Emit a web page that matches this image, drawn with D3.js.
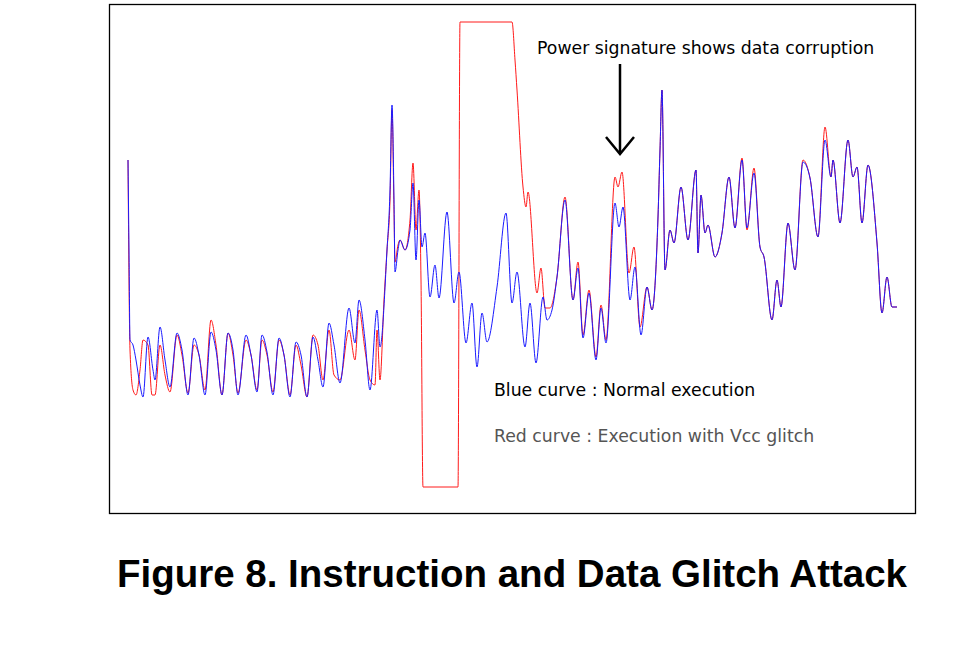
<!DOCTYPE html>
<html><head><meta charset="utf-8">
<script src="https://cdn.jsdelivr.net/npm/d3@7"></script>
<style>body{margin:0;background:#fff}</style></head>
<body><svg id="c" width="953" height="647"></svg>
<script>
// time samples and power levels (arbitrary units, 0..510)
const blueT = [128,129,130,133,136,140,143,148,153,155,160,165,170,177,182,188,194,199,205,211,216,222,228,233,238,246,251,257,262,267,273,279,284,290,296,301,307,313,318,323,329,334,340,349,355,359,365,370,377,380,387,390,392,394,395,398,400,405,410,413,416,419,422,425,430,435,439,447,454,459,466,472,477,482,487,497,506,512,517,525,530,536,543,547,552,557,565,573,578,583,589,596,601,606,615,619,623,630,635,641,647,652,658,660,662,665,670,674,681,688,696,698,701,705,708,715,722,729,735,742,747,754,760,764,772,777,781,788,795,803,810,818,825,831,833,840,848,853,857,862,868,877,882,887,892,897];
const bluePx = [160,250,340,345,360,385,397,337,370,380,327,360,387,333,350,395,338,355,395,332,350,395,333,350,395,335,355,392,335,352,395,338,355,397,342,355,397,337,360,387,323,345,383,308,343,300,340,390,310,347,250,190,105,200,272,250,240,250,230,183,260,200,247,233,297,265,298,212,303,272,343,303,367,313,342,287,213,303,272,347,303,363,297,320,310,277,200,300,268,338,293,360,308,343,203,227,207,300,267,335,287,310,217,150,90,270,230,243,187,240,170,253,195,233,225,257,233,177,228,160,228,173,247,257,320,280,307,223,270,162,178,237,140,177,160,223,140,177,167,223,165,243,313,277,307,307];
const redT = [128,129,130,133,136,140,143,148,152,155,160,165,170,177,182,188,194,199,205,211,216,222,228,233,238,246,251,257,262,267,273,279,284,290,296,301,307,313,318,323,329,334,340,349,355,359,365,370,375,377,380,384,387,390,392,394,395,398,400,405,410,413,416,419,421,423,458,460,512,515,517,523,526,528,537,541,545,550,557,565,573,578,583,589,596,601,606,615,618,622,629,634,640,647,652,658,660,662,665,670,674,681,688,696,698,701,705,708,715,722,729,735,742,747,754,760,764,772,777,781,788,795,803,810,818,825,831,833,840,848,853,857,862,868,877,882,887,892,897];
const redPx = [160,280,350,390,395,370,340,345,395,395,345,375,392,335,355,393,345,355,390,320,345,395,333,355,393,340,355,390,340,355,392,340,355,395,345,365,397,335,345,380,330,375,380,330,360,310,350,380,385,330,380,300,250,200,110,210,262,245,240,250,220,163,230,190,280,487,487,22,22,60,90,187,207,192,293,268,308,308,277,197,300,262,335,290,357,305,340,177,187,172,273,247,327,287,310,217,150,90,270,230,243,187,240,170,253,195,233,225,257,233,177,228,158,230,168,247,257,320,280,307,223,270,160,178,237,127,177,160,223,140,177,167,223,165,243,313,277,307,307];
const toVal = p => 514 - p;
const blueV = bluePx.map(toVal), redV = redPx.map(toVal);

const svg = d3.select("#c");
const x = d3.scaleLinear().domain([109,916]).range([109,916]);
const y = d3.scaleLinear().domain([0,510]).range([514,4]);
const line = d3.line().x(d=>x(d[0])).y(d=>y(d[1])).curve(d3.curveMonotoneX);

svg.append("rect").attr("x",109.5).attr("y",4.5).attr("width",806).attr("height",509)
  .attr("fill","none").attr("stroke","#000").attr("stroke-width",1.3);

svg.append("path").datum(redT.map((t,i)=>[t,redV[i]])).attr("d",line)
  .attr("fill","none").attr("stroke","#ff1a1a").attr("stroke-width",1);
svg.append("path").datum(blueT.map((t,i)=>[t,blueV[i]])).attr("d",line)
  .attr("fill","none").attr("stroke","#1a1aff").attr("stroke-width",1);

const f = "'DejaVu Sans',sans-serif";
svg.append("text").attr("x",537).attr("y",54).attr("font-family",f).attr("font-size",17.3)
  .text("Power signature shows data corruption");
svg.append("line").attr("x1",620).attr("y1",64).attr("x2",620).attr("y2",153).attr("stroke","#000").attr("stroke-width",2.5);
svg.append("path").attr("d","M606,137 L620,154 L634,137").attr("fill","none").attr("stroke","#000").attr("stroke-width",2.5);
svg.append("text").attr("x",494).attr("y",396).attr("font-family",f).attr("font-size",17.3)
  .text("Blue curve : Normal execution");
svg.append("text").attr("x",494).attr("y",442).attr("font-family",f).attr("font-size",17.3).attr("fill","#555")
  .text("Red curve : Execution with Vcc glitch");
svg.append("text").attr("x",512).attr("y",587).attr("text-anchor","middle")
  .attr("font-family","'Liberation Sans',Arial,sans-serif").attr("font-weight","bold").attr("font-size",38.5)
  .text("Figure 8. Instruction and Data Glitch Attack");
</script></body></html>
